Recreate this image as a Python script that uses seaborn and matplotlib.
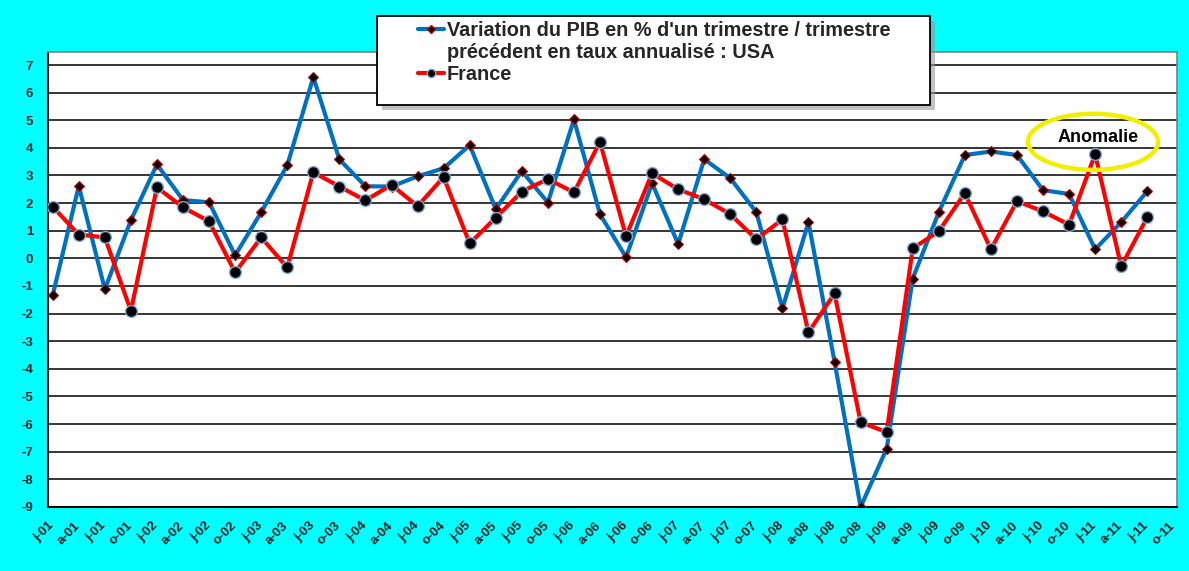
import numpy as np
import pandas as pd
import matplotlib
matplotlib.use('Agg')
import matplotlib.pyplot as plt
import seaborn as sns
from matplotlib.patches import Ellipse, Rectangle
from matplotlib.lines import Line2D

# quarters shown on the x axis (j=janvier, a=avril, j=juillet, o=octobre)
quarters = ['j', 'a', 'j', 'o']
years = ['01', '02', '03', '04', '05', '06', '07', '08', '09', '10', '11']
tick_labels = [f'{q}-{y}' for y in years for q in quarters]

# quarterly GDP change, annualised rate (%), j-01 .. j-11
usa = [-1.34, 2.62, -1.12, 1.38, 3.40, 2.11, 2.03, 0.11, 1.67, 3.37, 6.56, 3.58,
       2.61, 2.60, 2.97, 3.26, 4.10, 1.78, 3.16, 2.02, 5.03, 1.60, 0.04, 2.72,
       0.52, 3.59, 2.90, 1.67, -1.81, 1.31, -3.74, -9.0, -6.89, -0.73, 1.67, 3.74,
       3.87, 3.74, 2.47, 2.33, 0.33, 1.31, 2.43]
france = [1.87, 0.86, 0.76, -1.90, 2.57, 1.85, 1.34, -0.51, 0.76, -0.33, 3.12, 2.60,
          2.10, 2.66, 1.89, 2.94, 0.54, 1.47, 2.42, 2.87, 2.39, 4.21, 0.80, 3.08,
          2.50, 2.14, 1.60, 0.69, 1.41, -2.68, -1.27, -5.93, -6.29, 0.36, 0.98, 2.36,
          0.33, 2.07, 1.70, 1.22, 3.77, -0.29, 1.49]

label_usa_1 = "Variation du PIB en % d'un trimestre / trimestre"
label_usa_2 = "précédent en taux annualisé : USA"
label_fr = "France"

df = pd.DataFrame({'pos': np.arange(len(usa)) + 0.18, 'usa': usa, 'france': france})

sns.set_style('white')
plt.rcParams['font.family'] = ['Liberation Sans', 'DejaVu Sans']
plt.rcParams['font.weight'] = 'bold'

fig = plt.figure(figsize=(11.89, 5.71), dpi=100)
fig.patch.set_facecolor('#00FFFF')
ax = fig.add_axes([0.0404, 0.1121, 0.9495, 0.7968])
ax.set_facecolor('white')

sns.lineplot(data=df, x='pos', y='usa', ax=ax, color='#0070C0', lw=3,
             marker='D', markersize=5, markerfacecolor='black',
             markeredgecolor='#C00000', markeredgewidth=0.8, sort=False, zorder=3)
sns.lineplot(data=df, x='pos', y='france', ax=ax, color='#FF0000', lw=3,
             marker='o', markersize=8.5, markerfacecolor='black',
             markeredgecolor='#7FA7D9', markeredgewidth=1.0, sort=False, zorder=4)

ax.set_xlim(0, 43.32)
ax.set_ylim(-9, 7.47)
ax.set_yticks(range(-9, 8))
ax.set_yticklabels([str(v) for v in range(-9, 8)], fontsize=9.5, fontweight='bold')
ax.set_xticks(range(len(tick_labels)))
ax.set_xticklabels(tick_labels, rotation=45, ha='right', va='top',
                   rotation_mode='anchor', fontsize=9.5, fontweight='bold')
ax.tick_params(axis='x', length=4, width=1, color='black', pad=5, direction='out')
ax.tick_params(axis='y', length=0, pad=10.8)
ax.grid(axis='y', color='black', lw=1.1)
ax.grid(axis='x', visible=False)
ax.set_axisbelow(True)
ax.set_xlabel('')
ax.set_ylabel('')
for side in ['left', 'bottom']:
    ax.spines[side].set_color('black')
    ax.spines[side].set_linewidth(1.5)
for side in ['top', 'right']:
    ax.spines[side].set_color('#808080')
    ax.spines[side].set_linewidth(1.2)

# "Anomalie" annotation
ax.add_patch(Ellipse((40.1, 4.22), 4.99, 2.03, fill=False, edgecolor='#F2EE00',
                     lw=3.2, zorder=5))
ax.text(40.3, 4.36, 'Anomalie', ha='center', va='center', fontsize=13,
        fontweight='bold', color='black', zorder=6)

# legend box with shadow
W, H = fig.get_size_inches() * fig.dpi
bx, by, bw, bh = 377 / W, 1 - 105 / H, 553 / W, 89 / H
fig.patches.append(Rectangle((bx + 5 / W, by - 5 / H), bw, bh, transform=fig.transFigure,
                             facecolor='#9A9A9A', edgecolor='none', alpha=0.6, zorder=1))
fig.patches.append(Rectangle((bx, by), bw, bh, transform=fig.transFigure,
                             facecolor='white', edgecolor='black', lw=1.3, zorder=2))

h_usa = Line2D([], [], color='#0070C0', lw=3, marker='D', markersize=4,
               markerfacecolor='black', markeredgecolor='#C00000')
h_blank = Line2D([], [], color='none')
h_fr = Line2D([], [], color='#FF0000', lw=3, marker='o', markersize=6,
              markerfacecolor='black', markeredgecolor='#7FA7D9')
leg = fig.legend([h_usa, h_blank, h_fr], [label_usa_1, label_usa_2, label_fr],
                 loc='upper left', bbox_to_anchor=(418 / W, 1 - 21 / H),
                 frameon=False, prop={'weight': 'bold', 'size': 14.3},
                 handlelength=1.3, handletextpad=0.15, borderpad=0,
                 labelspacing=0.16, borderaxespad=0)
leg.set_zorder(3)

fig.savefig('out.png', dpi=100, facecolor=fig.get_facecolor())
